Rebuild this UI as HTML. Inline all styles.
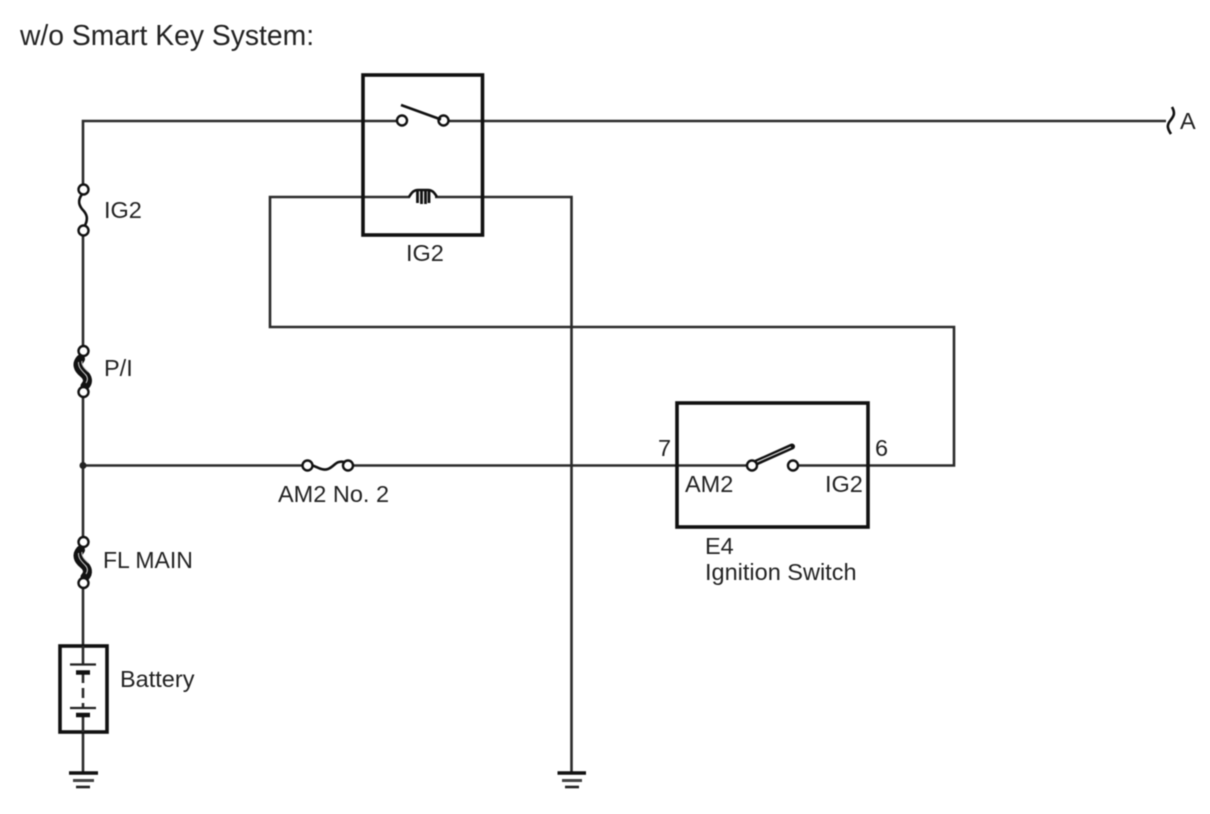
<!DOCTYPE html>
<html>
<head>
<meta charset="utf-8">
<style>
html,body{margin:0;padding:0;background:#fff;width:1210px;height:814px;overflow:hidden}
svg{display:block;filter:blur(0.45px)}
text{font-family:"Liberation Sans",sans-serif;font-size:23.5px;fill:#222}
.w{fill:none;stroke:#2b2b2b;stroke-width:2.6}
.b{fill:none;stroke:#111;stroke-width:3.6}
.c{fill:#fff;stroke:#111;stroke-width:2.4}
.s{fill:none;stroke:#111;stroke-width:2.6}
.f{fill:none;stroke:#111;stroke-width:9;stroke-linecap:round}
.g{fill:none;stroke:#ccc;stroke-width:1}
</style>
</head>
<body>
<svg width="1210" height="814" viewBox="0 0 1210 814" xmlns="http://www.w3.org/2000/svg">
<!-- wires -->
<path class="w" d="M1168 121H83V646"/>
<path class="w" d="M83 732V773"/>
<path class="w" d="M410 197H270V327H954V465.5H83"/>
<path class="w" d="M435 197H571.5V773"/>
<circle cx="83" cy="465.5" r="3.5" fill="#222"/>

<!-- relay -->
<rect class="b" x="363" y="75" width="119.5" height="160"/>
<rect x="406" y="112" width="33" height="16" fill="#fff"/>
<circle class="c" cx="402" cy="120.5" r="5"/>
<circle class="c" cx="443.5" cy="120.5" r="5"/>
<path class="s" d="M401 105L441 119.5" stroke-width="3.2"/>
<rect x="411" y="188" width="24" height="9" fill="#fff"/>
<path class="s" d="M409 197C412 192 414 190 418 190H428C432 190 434 192 437 197"/>
<path d="M417.5 191V203M421.5 191V204M425.5 191V204M429 191V203" stroke="#111" stroke-width="2.8" fill="none"/>

<!-- IG2 fuse -->
<rect x="78" y="195" width="12" height="30" fill="#fff"/>
<path class="s" d="M83 193C78 199 78 204 82 209C87 214 89 219 84 227"/>
<circle class="c" cx="83.5" cy="189.5" r="5"/>
<circle class="c" cx="83.5" cy="230.5" r="5"/>

<!-- P/I fuse -->
<rect x="74" y="356" width="20" height="30" fill="#fff"/>
<path class="f" d="M80.5 359C76 364 78 369 83 373C88 377 89 382 85 386"/>
<path class="g" d="M78.5 362C78 367 82 371 85 374C88 377 88 380 86 383"/>
<path class="g" d="M82 361C81 365 85 369 88.5 372"/>
<circle class="c" cx="83.5" cy="351" r="5"/>
<circle class="c" cx="83.5" cy="392" r="5"/>

<!-- FL MAIN fuse -->
<rect x="74" y="547" width="20" height="30" fill="#fff"/>
<path class="f" d="M80.5 550C76 555 78 560 83 564C88 568 89 573 85 577"/>
<path class="g" d="M78.5 553C78 558 82 562 85 565C88 568 88 571 86 574"/>
<path class="g" d="M82 552C81 556 85 560 88.5 563"/>
<circle class="c" cx="83.5" cy="542" r="5"/>
<circle class="c" cx="83.5" cy="583" r="5"/>

<!-- Battery -->
<rect x="60" y="646" width="47" height="86" fill="#fff" stroke="#111" stroke-width="3.6"/>
<path class="w" d="M83 646V664M83 672V683M83 688V698M83 703V708M83 715V732"/>
<path d="M70 664.5H96" stroke="#222" stroke-width="2.2" fill="none"/>
<path d="M76 672.5H90" stroke="#111" stroke-width="4.5" fill="none"/>
<path d="M70 708H96" stroke="#222" stroke-width="2.2" fill="none"/>
<path d="M76 715H90" stroke="#111" stroke-width="4.5" fill="none"/>

<!-- grounds -->
<path d="M69 773H98" stroke="#111" stroke-width="3.4" fill="none"/>
<path d="M73 780.5H94" stroke="#444" stroke-width="3" fill="none"/>
<path d="M76 787H90" stroke="#222" stroke-width="2.6" fill="none"/>
<path d="M557.5 773H586" stroke="#111" stroke-width="3.4" fill="none"/>
<path d="M562 780.5H582" stroke="#444" stroke-width="3" fill="none"/>
<path d="M565 787H579" stroke="#222" stroke-width="2.6" fill="none"/>

<!-- AM2 fuse -->
<rect x="311" y="460" width="33" height="11" fill="#fff"/>
<path class="s" d="M311 465C318 467 322 471 328 469C334 467 336 460 344 462"/>
<circle class="c" cx="307.5" cy="465.5" r="5"/>
<circle class="c" cx="348" cy="465.5" r="5"/>

<!-- E4 -->
<rect class="b" x="677" y="403" width="191" height="124"/>
<rect x="757" y="458" width="31" height="15" fill="#fff"/>
<path d="M753 464L792 446.5" stroke="#111" stroke-width="6" stroke-linecap="round" fill="none"/>
<path d="M757 462L791 447" stroke="#eee" stroke-width="1" fill="none"/>
<circle class="c" cx="752" cy="465.5" r="5"/>
<circle class="c" cx="793" cy="465.5" r="5"/>

<!-- A break -->
<rect x="1166" y="115" width="6" height="12" fill="#fff"/>
<path class="s" d="M1172 107C1176 114 1173 117 1170 121C1167 125 1167 128 1171 134"/>

<!-- labels -->
<text x="20" y="45" style="font-size:28.3px">w/o Smart Key System:</text>
<text x="1180" y="129">A</text>
<text x="104" y="218">IG2</text>
<text x="406" y="261">IG2</text>
<text x="104" y="376">P/I</text>
<text x="278" y="502">AM2 No. 2</text>
<text x="658" y="456">7</text>
<text x="875" y="456">6</text>
<text x="685" y="492">AM2</text>
<text x="825" y="492">IG2</text>
<text x="705" y="554">E4</text>
<text x="705" y="580">Ignition Switch</text>
<text x="103" y="568" style="font-size:23px">FL MAIN</text>
<text x="120" y="687">Battery</text>
</svg>
</body>
</html>
